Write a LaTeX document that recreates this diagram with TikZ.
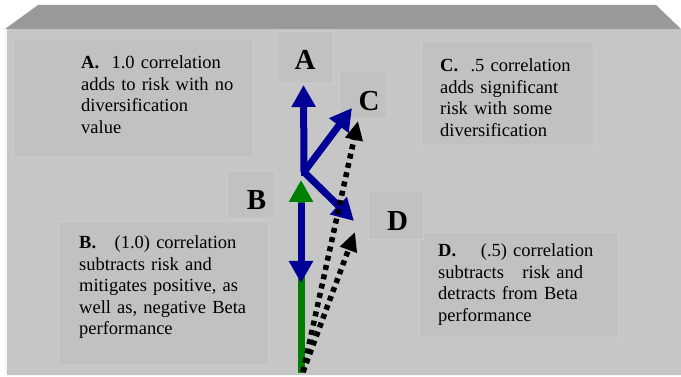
\documentclass[tikz,border=0pt]{standalone}
\usepackage{fontspec}
\setmainfont{Liberation Serif}
\usepackage{xcolor}
\usetikzlibrary{positioning, arrows.meta, calc}

\definecolor{face}{RGB}{198,198,198}
\definecolor{panelfill}{RGB}{193,193,193}
\definecolor{panelline}{RGB}{203,203,203}
\definecolor{bevel}{RGB}{153,153,153}
\definecolor{vecblue}{RGB}{0,0,148}
\definecolor{vecgreen}{RGB}{0,128,0}

\begin{document}
\begin{tikzpicture}[
        x=1pt, y=-1pt,
        panel/.style={fill=panelfill, draw=panelline, line width=1pt},
        note/.style={anchor=base west, inner sep=0pt, text width=#1, align=left,
                     font=\fontsize{18.5}{21.5}\selectfont},
        note/.default=200pt,
        tag/.style={inner sep=0pt, font=\fontsize{29}{30}\selectfont\bfseries},
        vec/.style={-{Triangle[width=23pt, length=22pt]}, line width=7pt, draw=#1},
        vec/.default=vecblue,
        dotvec/.style={-{Triangle[width=17pt, length=19pt]}, line width=5.5pt,
                       dash pattern=on 5pt off 4.5pt},
    ]
    \useasboundingbox (0,0) rectangle (681,377);

    % ---- 3D frame ----
    \fill[bevel] (38,5) -- (656,5) -- (681,29) -- (5,29) -- cycle;
    \fill[face] (5,29) rectangle (681,376);
    \draw[white!85!face, line width=2pt] (6,29) -- (6,376);
    \draw[white!85!face, line width=1.5pt] (5,375.5) -- (681,375.5);

    % ---- panels ----
    \draw[panel] (13,40) rectangle (253,158);
    \draw[panel] (58,222) rectangle (268,365);
    \draw[panel] (421,42) rectangle (593,146);
    \draw[panel] (419,233) rectangle (618,337);
    \draw[panel] (276,32) rectangle (333,84);
    \draw[panel] (339,72) rectangle (387,119);
    \draw[panel] (227,172) rectangle (275,219);
    \draw[panel] (368,192) rectangle (423,240);

    % ---- letters ----
    \node[tag] (tag-a) at (305,59.5) {A};
    \node[tag] (tag-c) at (369,101.5) {C};
    \node[tag] (tag-b) at (256.5,200.5) {B};
    \node[tag] (tag-d) at (397.5,221.5) {D};

    % ---- notes ----
    \node[note] (note-a) at (81,69) {\textbf{A.}\ \ 1.0 correlation\\adds to risk with no\\diversification\\value};
    \node[note] (note-c) at (440,72) {\textbf{C.}\ \ .5 correlation\\adds significant\\risk with some\\diversification};
    \node[note] (note-b) at (79,249) {\textbf{B.}\ \ \ (1.0) correlation\\subtracts risk and\\mitigates positive, as\\well as, negative Beta\\performance};
    \node[note] (note-d) at (438,257) {\textbf{D.}\ \ \ \ (.5) correlation\\subtracts\ \ \ risk and\\detracts from Beta\\performance};

    % ---- vectors ----
    \coordinate (o) at (304,172);
    \coordinate (base) at (301,373);
    \coordinate (foot) at (303,372);
    \coordinate (tip-a) at (303.5,85);
    \coordinate (tip-c) at (352,108);
    \coordinate (tip-d) at (354,221);
    \coordinate (tip-g) at (301,180);
    \coordinate (start-b) at (301,203);
    \coordinate (tip-b) at (301,283);
    \coordinate (tip-cd) at (358,121);
    \coordinate (tip-dd) at (355,232);

    \draw[vec=vecgreen] (base) -- (tip-g);
    \draw[vec] (start-b) -- (tip-b);
    \draw[vec] (o) -- (tip-a);
    \draw[vec] (o) -- (tip-c);
    \draw[vec] (o) -- (tip-d);
    \fill[vecblue] ($(o)+(-3.5,-4)$) rectangle ($(o)+(3.5,4)$);
    \draw[dotvec] (foot) -- (tip-cd);
    \draw[dotvec] (foot) -- (tip-dd);
\end{tikzpicture}
\end{document}
